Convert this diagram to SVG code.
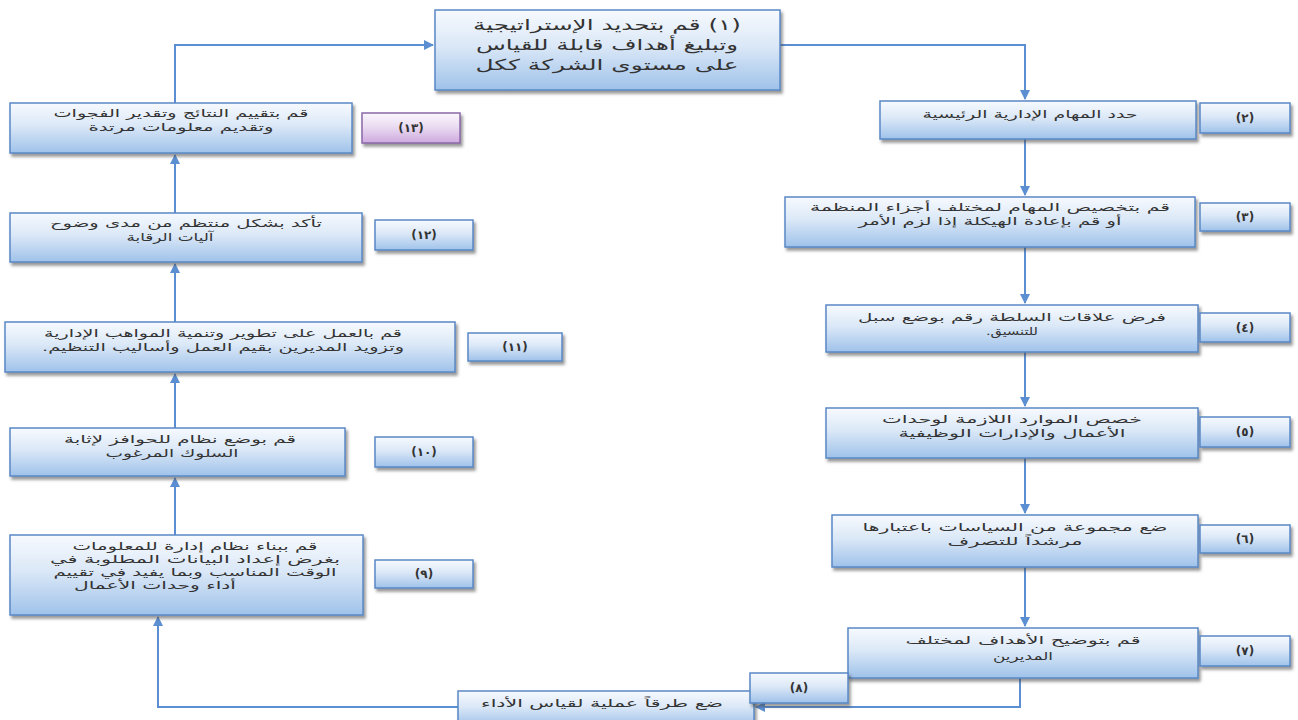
<svg xmlns="http://www.w3.org/2000/svg" width="1298" height="720" viewBox="0 0 1298 720">
  <defs>
    <linearGradient id="gBlue" x1="0" y1="0" x2="0" y2="1">
      <stop offset="0" stop-color="#f7fafe"/>
      <stop offset="0.45" stop-color="#dbe8f7"/>
      <stop offset="1" stop-color="#9fc2ea"/>
    </linearGradient>
    <linearGradient id="gPurple" x1="0" y1="0" x2="0" y2="1">
      <stop offset="0" stop-color="#fbf6fd"/>
      <stop offset="0.45" stop-color="#eadcf1"/>
      <stop offset="1" stop-color="#cfa9df"/>
    </linearGradient>
    <filter id="shadow" x="-5%" y="-10%" width="115%" height="140%">
      <feDropShadow dx="2" dy="3" stdDeviation="1.5" flood-color="#404040" flood-opacity="0.55"/>
    </filter>
    <marker id="arrow" viewBox="0 0 10 10" refX="9" refY="5" markerWidth="10" markerHeight="10" markerUnits="userSpaceOnUse" orient="auto">
      <path d="M0,0 L10,5 L0,10 Z" fill="#5b8fd2"/>
    </marker>
  </defs>
  <style>
    .box { fill: url(#gBlue); stroke: #5a88c6; stroke-width: 1.5; filter: url(#shadow); }
    .tag { fill: url(#gBlue); stroke: #5a88c6; stroke-width: 1.5; filter: url(#shadow); }
    .tag-p { fill: url(#gPurple); stroke: #8a68a8; stroke-width: 1.5; filter: url(#shadow); }
    .t { font-family: "DejaVu Sans", sans-serif; font-size: 11px; fill: #333; text-anchor: middle; direction: rtl; }
    .t1 { font-family: "DejaVu Sans", sans-serif; font-size: 15px; fill: #333; text-anchor: middle; direction: rtl; }
    .n { font-family: "DejaVu Sans", sans-serif; font-size: 12px; font-weight: bold; fill: #333; text-anchor: middle; direction: rtl; }
    .c { fill: none; stroke: #5b8fd2; stroke-width: 2; marker-end: url(#arrow); }
  </style>
  <rect width="1298" height="720" fill="#ffffff"/>

  <g id="connectors">
    <path class="c" d="M175,103 V45 H433"/>
    <path class="c" d="M780,45 H1025 V99"/>
    <path class="c" d="M1025,139 V195"/>
    <path class="c" d="M1025,247 V303"/>
    <path class="c" d="M1025,352 V406"/>
    <path class="c" d="M1025,458 V513"/>
    <path class="c" d="M1025,567 V626"/>
    <path class="c" d="M1020,678 V707 H756"/>
    <path class="c" d="M458,707 H158 V617"/>
    <path class="c" d="M175,535 V478"/>
    <path class="c" d="M175,428 V374"/>
    <path class="c" d="M175,322 V264"/>
    <path class="c" d="M175,213 V155"/>
  </g>

  <g id="step1">
    <rect class="box" x="435" y="10" width="345" height="80"/>
    <text class="t1" x="607" y="30" textLength="268" lengthAdjust="spacingAndGlyphs">(١) قم بتحديد الإستراتيجية</text>
    <text class="t1" x="607" y="50" textLength="262" lengthAdjust="spacingAndGlyphs">وتبليغ أهداف قابلة للقياس</text>
    <text class="t1" x="607" y="70" textLength="263" lengthAdjust="spacingAndGlyphs">على مستوى الشركة ككل</text>
  </g>

  <g id="step2">
    <rect class="box" x="880" y="101" width="316" height="38"/>
    <text class="t" x="1030" y="118" textLength="215" lengthAdjust="spacingAndGlyphs">حدد المهام الإدارية الرئيسية</text>
    <rect class="tag" x="1200" y="103" width="90" height="30"/>
    <text class="n" x="1245" y="122">(٢)</text>
  </g>

  <g id="step3">
    <rect class="box" x="785" y="197" width="410" height="50"/>
    <text class="t" x="990" y="211" textLength="360" lengthAdjust="spacingAndGlyphs">قم بتخصيص المهام لمختلف أجزاء المنظمة</text>
    <text class="t" x="990" y="225" textLength="263" lengthAdjust="spacingAndGlyphs">أو قم بإعادة الهيكلة إذا لزم الأمر</text>
    <rect class="tag" x="1200" y="203" width="90" height="28"/>
    <text class="n" x="1245" y="221">(٣)</text>
  </g>

  <g id="step4">
    <rect class="box" x="826" y="305" width="372" height="47"/>
    <text class="t" x="1012" y="321" textLength="308" lengthAdjust="spacingAndGlyphs">فرض علاقات السلطة رقم بوضع سبل</text>
    <text class="t" x="1012" y="335" textLength="52" lengthAdjust="spacingAndGlyphs">للتنسيق.</text>
    <rect class="tag" x="1200" y="313" width="90" height="29"/>
    <text class="n" x="1245" y="332">(٤)</text>
  </g>

  <g id="step5">
    <rect class="box" x="826" y="408" width="372" height="50"/>
    <text class="t" x="1012" y="423" textLength="260" lengthAdjust="spacingAndGlyphs">خصص الموارد اللازمة لوحدات</text>
    <text class="t" x="1012" y="437" textLength="227" lengthAdjust="spacingAndGlyphs">الأعمال والإدارات الوظيفية</text>
    <rect class="tag" x="1200" y="417" width="90" height="30"/>
    <text class="n" x="1245" y="436">(٥)</text>
  </g>

  <g id="step6">
    <rect class="box" x="832" y="515" width="366" height="52"/>
    <text class="t" x="1015" y="531" textLength="305" lengthAdjust="spacingAndGlyphs">ضع مجموعة من السياسات باعتبارها</text>
    <text class="t" x="1015" y="545" textLength="135" lengthAdjust="spacingAndGlyphs">مرشداً للتصرف</text>
    <rect class="tag" x="1200" y="525" width="90" height="28"/>
    <text class="n" x="1245" y="543">(٦)</text>
  </g>

  <g id="step7">
    <rect class="box" x="848" y="628" width="350" height="50"/>
    <text class="t" x="1023" y="644" textLength="235" lengthAdjust="spacingAndGlyphs">قم بتوضيح الأهداف لمختلف</text>
    <text class="t" x="1023" y="660" textLength="60" lengthAdjust="spacingAndGlyphs">المديرين</text>
    <rect class="tag" x="1200" y="636" width="90" height="30"/>
    <text class="n" x="1245" y="655">(٧)</text>
  </g>

  <g id="step8">
    <rect class="box" x="458" y="691" width="296" height="35"/>
    <text class="t" x="602" y="707" textLength="242" lengthAdjust="spacingAndGlyphs">ضع طرقاً عملية لقياس الأداء</text>
    <rect class="tag" x="750" y="673" width="98" height="30"/>
    <text class="n" x="799" y="692">(٨)</text>
  </g>

  <g id="step9">
    <rect class="box" x="10" y="535" width="353" height="80"/>
    <text class="t" x="195" y="550" textLength="245" lengthAdjust="spacingAndGlyphs">قم ببناء نظام إدارة للمعلومات</text>
    <text class="t" x="195" y="563" textLength="290" lengthAdjust="spacingAndGlyphs">بغرض إعداد البيانات المطلوبة في</text>
    <text class="t" x="195" y="576" textLength="283" lengthAdjust="spacingAndGlyphs">الوقت المناسب وبما يفيد في تقييم</text>
    <text class="t" x="155" y="589" textLength="162" lengthAdjust="spacingAndGlyphs">أداء وحدات الأعمال</text>
    <rect class="tag" x="375" y="560" width="98" height="28"/>
    <text class="n" x="424" y="578">(٩)</text>
  </g>

  <g id="step10">
    <rect class="box" x="10" y="428" width="335" height="48"/>
    <text class="t" x="180" y="443" textLength="232" lengthAdjust="spacingAndGlyphs">قم بوضع نظام للحوافز لإثابة</text>
    <text class="t" x="172" y="457" textLength="133" lengthAdjust="spacingAndGlyphs">السلوك المرغوب</text>
    <rect class="tag" x="375" y="437" width="98" height="30"/>
    <text class="n" x="424" y="456">(١٠)</text>
  </g>

  <g id="step11">
    <rect class="box" x="5" y="322" width="450" height="50"/>
    <text class="t" x="223" y="337" textLength="358" lengthAdjust="spacingAndGlyphs">قم بالعمل على تطوير وتنمية المواهب الإدارية</text>
    <text class="t" x="223" y="351" textLength="362" lengthAdjust="spacingAndGlyphs">وتزويد المديرين بقيم العمل وأساليب التنظيم.</text>
    <rect class="tag" x="468" y="333" width="94" height="28"/>
    <text class="n" x="515" y="351">(١١)</text>
  </g>

  <g id="step12">
    <rect class="box" x="10" y="213" width="352" height="49"/>
    <text class="t" x="186" y="227" textLength="272" lengthAdjust="spacingAndGlyphs">تأكد بشكل منتظم من مدى وضوح</text>
    <text class="t" x="170" y="241" textLength="87" lengthAdjust="spacingAndGlyphs">آليات الرقابة</text>
    <rect class="tag" x="375" y="220" width="98" height="30"/>
    <text class="n" x="424" y="239">(١٢)</text>
  </g>

  <g id="step13">
    <rect class="box" x="10" y="103" width="342" height="50"/>
    <text class="t" x="181" y="117" textLength="255" lengthAdjust="spacingAndGlyphs">قم بتقييم النتائج وتقدير الفجوات</text>
    <text class="t" x="181" y="131" textLength="185" lengthAdjust="spacingAndGlyphs">وتقديم معلومات مرتدة</text>
    <rect class="tag-p" x="362" y="113" width="98" height="30"/>
    <text class="n" x="411" y="132">(١٣)</text>
  </g>
</svg>
